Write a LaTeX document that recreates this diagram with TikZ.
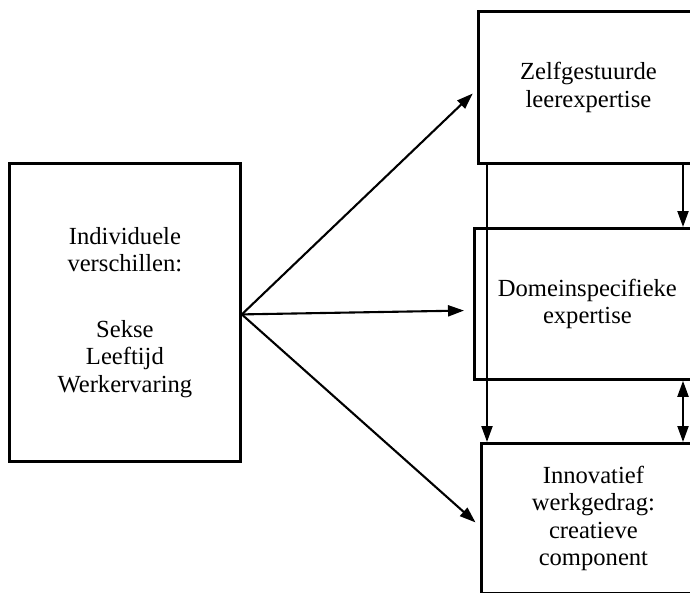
\documentclass[tikz,border=0pt]{standalone}
\usepackage{fontspec}
\setmainfont{Liberation Serif}
\usetikzlibrary{calc,positioning,arrows.meta}

\begin{document}
\begin{tikzpicture}[
    x=1pt, y=-1pt,
    box/.style={rectangle, draw=black, line width=2.8pt, anchor=north west,
        inner sep=0pt, align=center, font=\fontsize{24.6}{27.5}\selectfont},
    arr/.style={-{Triangle[length=16pt,width=11pt]}, line width=2.1pt},
    dblarr/.style={{Triangle[length=16pt,width=11pt]}-{Triangle[length=16pt,width=11pt]}, line width=2.1pt}
]
\useasboundingbox (0,0) rectangle (690,592);
\clip (0,0) rectangle (690,592);
\node[box, minimum width=231pt, minimum height=298pt] (indiv) at (8,162)
    {Individuele\\verschillen:\\[38pt]Sekse\\Leeftijd\\Werkervaring};
\node[box, minimum width=220pt, minimum height=152pt] (zelf) at (477,10)
    {Zelfgestuurde\\leerexpertise};
\node[box, minimum width=226pt, minimum height=151pt] (domein) at (473,227)
    {Domeinspecifieke\\expertise};
\node[box, minimum width=224pt, minimum height=150pt] (innov) at (480,442)
    {Innovatief\\werkgedrag:\\creatieve\\component};
% pijlen vanuit individuele verschillen
\draw[arr, shorten >=6pt] ([yshift=-2pt]indiv.east) -- ([yshift=-2pt]zelf.west);
\draw[arr, shorten >=9pt] ([yshift=-2pt]indiv.east) -- ([yshift=-6.5pt]domein.west);
\draw[arr, shorten >=6pt] ([yshift=-2pt]indiv.east) -- ([yshift=-8pt]innov.west);
% verticale pijlen
\coordinate (zl) at ($(zelf.south west)+(10,0)$);
\coordinate (zr) at ($(zelf.south west)+(206,0)$);
\draw[arr] (zl) -- (zl |- innov.north);
\draw[arr] (zr) -- (zr |- domein.north);
\draw[dblarr] (zr |- domein.south) -- (zr |- innov.north);
\end{tikzpicture}
\end{document}
